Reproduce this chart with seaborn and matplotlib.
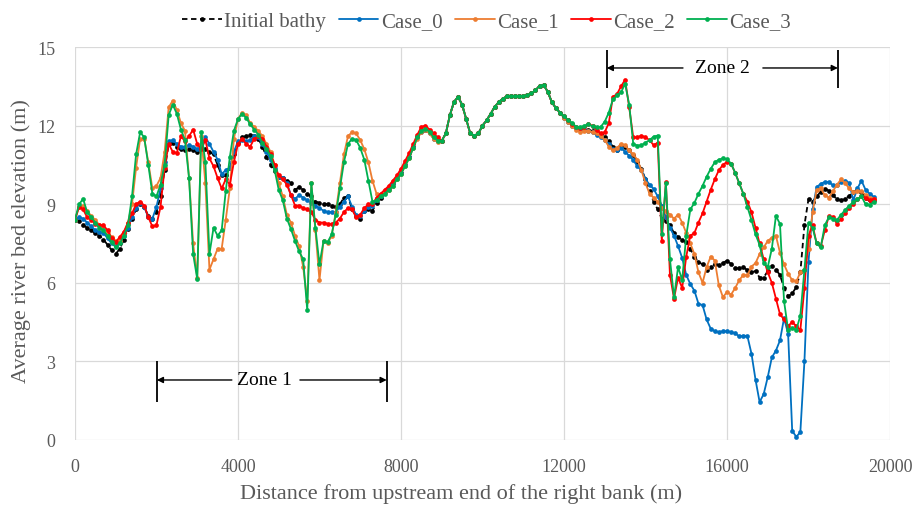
import numpy as np
import pandas as pd
import matplotlib
matplotlib.use("Agg")
import matplotlib.pyplot as plt
import seaborn as sns

# Survey stations along the right bank (m), every 100 m
station_m = np.arange(0, 19700, 100)

# Reach 9000-11900 m: all runs coincide
shared_mid = [11.42, 11.7, 12.4, 12.9, 13.1, 12.8, 12.25, 11.7, 11.62, 11.7,
              12.0, 12.2, 12.45, 12.72, 12.9, 13.03, 13.12, 13.13, 13.13, 13.13,
              13.13, 13.16, 13.23, 13.35, 13.52, 13.55, 13.3, 12.9, 12.67, 12.5]

# ---- Initial bathymetry ----
initial_west = [8.4, 8.35, 8.2, 8.1, 8.0, 7.9, 7.8, 7.65, 7.45, 7.25,
                7.1, 7.3, 7.65, 8.05, 8.45, 8.8, 9.0, 8.9, 8.55, 8.45,
                8.7, 9.3, 10.3, 11.3, 11.35, 11.2, 11.1, 11.05, 11.1, 11.05,
                11.0, 11.1, 11.1, 11.0, 10.9, 10.5, 10.1, 10.1, 10.4, 10.9,
                11.35, 11.55, 11.6, 11.65, 11.6, 11.5, 11.2, 10.8, 10.5, 10.25,
                10.05, 10.0, 9.9, 9.8, 9.55, 9.65, 9.55, 9.4, 9.3, 9.1,
                9.05, 9.0, 9.0, 8.95, 8.9, 9.0, 9.25, 9.3, 8.8, 8.55,
                8.45, 8.75, 8.8, 8.75, 9.05, 9.25, 9.45, 9.6, 9.8, 10.0,
                10.2, 10.5, 10.8, 11.2, 11.55, 11.78, 11.85, 11.75, 11.52, 11.42]
initial_east = [12.33, 12.2, 12.05, 11.92, 11.87, 11.85, 11.82, 11.8, 11.72, 11.68,
                11.55, 11.4, 11.2, 11.05, 11.25, 11.2, 11.05, 10.87, 10.6, 10.35,
                9.95, 9.5, 9.1, 8.8, 8.45, 8.35, 8.2, 7.9, 7.74, 7.65,
                7.55, 7.3, 7.0, 6.8, 6.7, 6.5, 6.6, 6.7, 6.68, 6.75,
                6.85, 6.72, 6.55, 6.55, 6.6, 6.48, 6.4, 6.45, 6.2, 6.2,
                6.45, 6.65, 6.5, 6.3, 5.8, 5.48, 5.6, 5.83, 6.4, 8.2,
                9.2, 9.1, 9.3, 9.47, 9.58, 9.52, 9.35, 9.18, 9.15, 9.2,
                9.32, 9.45, 9.53, 9.45, 9.25, 9.15, 9.15]

# ---- Case_0 ----
case0_west = [8.4, 8.5, 8.45, 8.3, 8.15, 8.0, 7.95, 7.9, 7.7, 7.5,
              7.4, 7.55, 7.8, 8.1, 8.5, 8.85, 9.05, 8.9, 8.5, 8.45,
              8.9, 9.6, 10.6, 11.4, 11.45, 11.3, 11.2, 11.2, 11.25, 11.2,
              11.1, 11.2, 11.55, 11.3, 11.0, 10.7, 10.15, 10.3, 10.4, 11.0,
              11.4, 11.45, 11.4, 11.45, 11.6, 11.55, 11.3, 11.0, 10.7, 10.4,
              10.05, 10.0, 9.8, 9.35, 9.2, 9.35, 9.25, 9.15, 9.05, 8.95,
              8.85, 8.75, 8.7, 8.7, 8.7, 8.9, 9.1, 9.3, 8.9, 8.6,
              8.55, 8.75, 8.9, 8.95, 9.15, 9.3, 9.45, 9.6, 9.8, 10.0,
              10.2, 10.5, 10.8, 11.2, 11.55, 11.75, 11.82, 11.72, 11.5, 11.4]
case0_east = [12.3, 12.15, 12.0, 11.9, 11.85, 11.85, 11.8, 11.75, 11.65, 11.55,
              11.45, 11.3, 11.1, 11.05, 11.15, 11.0, 10.85, 10.68, 10.45, 10.3,
              9.95, 9.75, 9.58, 9.3, 8.95, 8.5, 8.1, 7.8, 7.4, 6.95,
              6.3, 5.95, 5.7, 5.2, 5.15, 4.6, 4.25, 4.15, 4.12, 4.15,
              4.15, 4.12, 4.08, 3.95, 3.98, 3.97, 3.3, 2.3, 1.45, 1.75,
              2.4, 3.15, 3.41, 3.8, 4.65, 4.05, 0.35, 0.12, 0.3, 3.0,
              6.8, 8.8, 9.65, 9.78, 9.85, 9.85, 9.72, 9.75, 9.85, 9.9,
              9.8, 9.15, 9.6, 9.9, 9.55, 9.4, 9.28]

# ---- Case_1 ----
case1_west = [8.4, 8.9, 8.95, 8.75, 8.55, 8.4, 8.2, 8.05, 7.95, 7.75,
              7.6, 7.6, 7.9, 8.3, 9.0, 10.4, 11.5, 11.5, 10.6, 9.6,
              9.7, 10.0, 11.0, 12.7, 12.95, 12.6, 12.1, 11.8, 10.0, 7.5,
              6.2, 11.6, 9.8, 6.5, 6.9, 7.3, 7.3, 8.4, 9.6, 11.5,
              12.25, 12.5, 12.4, 12.1, 11.95, 11.8, 11.6, 11.3, 11.0, 10.5,
              9.8, 9.3, 8.6, 8.3, 7.8, 7.4, 6.6, 5.3, 9.8, 8.0,
              6.1, 7.6, 7.5, 7.8, 8.7, 9.8, 10.9, 11.6, 11.75, 11.7,
              11.45, 11.1, 10.6, 9.9, 9.4, 9.35, 9.45, 9.55, 9.7, 9.95,
              10.15, 10.45, 10.75, 11.15, 11.5, 11.75, 11.82, 11.7, 11.5, 11.38]
case1_east = [12.3, 12.15, 12.0, 11.85, 11.75, 11.8, 11.8, 11.75, 11.7, 11.6,
              11.45, 11.2, 11.05, 11.15, 11.3, 11.25, 11.05, 10.9, 10.7, 10.3,
              9.8, 9.4, 9.25, 9.1, 8.85, 8.75, 8.6, 8.45, 8.6, 8.3,
              7.9, 7.5, 7.1, 6.4, 6.0, 6.6, 7.0, 6.85, 5.9, 5.45,
              5.65, 5.55, 5.8, 6.1, 6.3, 6.28, 6.62, 6.75, 7.1, 7.35,
              7.6, 7.72, 7.8, 7.15, 6.7, 6.35, 6.1, 6.05, 6.4, 6.5,
              7.3, 8.7, 9.55, 9.6, 9.35, 9.25, 9.5, 9.75, 9.95, 9.8,
              9.6, 9.47, 9.5, 9.5, 9.35, 9.25, 9.2]

# ---- Case_2 ----
case2_west = [8.4, 8.9, 8.8, 8.5, 8.4, 8.25, 8.2, 8.2, 8.0, 7.7,
              7.55, 7.75, 7.95, 8.3, 8.65, 9.0, 9.1, 8.95, 8.5, 8.15,
              8.2, 8.9, 10.4, 11.3, 11.0, 10.95, 11.6, 11.4, 11.6, 11.85,
              11.3, 11.1, 11.45, 10.75, 10.45, 10.0, 9.6, 9.95, 9.75, 10.6,
              11.3, 11.5, 11.3, 11.2, 11.5, 11.6, 11.5, 11.2, 10.9, 10.5,
              10.1, 9.95, 9.75, 9.35, 8.95, 8.95, 8.85, 8.8, 8.7, 8.4,
              8.3, 8.3, 8.25, 8.25, 8.3, 8.45, 8.7, 8.85, 8.8, 8.5,
              8.6, 8.85, 9.0, 9.0, 9.25, 9.4, 9.55, 9.7, 9.9, 10.1,
              10.35, 10.65, 10.95, 11.3, 11.65, 11.95, 12.0, 11.85, 11.7, 11.55]
case2_east = [12.35, 12.2, 12.05, 11.95, 11.9, 11.95, 12.05, 12.0, 11.85, 11.7,
              11.75, 12.1, 13.1, 13.2, 13.5, 13.75, 12.7, 11.55, 11.55, 11.62,
              11.55, 11.45, 11.25, 11.35, 7.6, 9.85, 6.3, 5.4, 6.2, 5.8,
              7.0, 7.8, 7.9, 8.3, 8.65, 9.1, 9.55, 9.95, 10.3, 10.5,
              10.62, 10.55, 10.2, 9.8, 9.4, 9.1, 8.7, 8.1, 7.5, 6.9,
              6.4, 6.0, 5.4, 4.8, 4.6, 4.35, 4.5, 4.35, 4.2, 5.8,
              7.8, 8.2, 7.5, 7.4, 8.0, 8.55, 8.5, 8.25, 8.45, 8.65,
              8.85, 9.0, 9.18, 9.3, 9.25, 9.15, 9.2]

# ---- Case_3 ----
case3_west = [8.4, 9.0, 9.2, 8.7, 8.5, 8.3, 8.1, 8.0, 7.8, 7.55,
              7.35, 7.5, 7.8, 8.2, 9.3, 10.9, 11.75, 11.55, 10.5, 9.4,
              9.3, 9.75, 10.5, 12.4, 12.8, 12.45, 11.85, 11.45, 10.0, 7.1,
              6.15, 11.75, 10.6, 7.1, 8.1, 7.8, 8.0, 9.5, 10.8, 11.8,
              12.25, 12.45, 12.3, 12.05, 11.85, 11.65, 11.35, 11.1, 10.85, 10.3,
              9.55, 9.15, 8.45, 8.05, 7.6, 7.2, 6.9, 4.95, 9.8, 8.1,
              6.7, 7.6, 7.55, 7.85, 8.6, 9.6, 10.6, 11.3, 11.5, 11.45,
              11.15, 10.7, 9.9, 9.1, 9.15, 9.3, 9.4, 9.55, 9.7, 9.95,
              10.15, 10.45, 10.75, 11.15, 11.55, 11.8, 11.87, 11.77, 11.55, 11.43]
case3_east = [12.35, 12.22, 12.1, 11.95, 11.93, 12.0, 12.05, 11.97, 11.93, 11.95,
              12.15, 12.5, 13.0, 13.15, 13.27, 13.6, 12.8, 11.3, 11.24, 11.25,
              11.35, 11.45, 11.58, 11.62, 7.85, 9.8, 6.9, 5.45, 6.6, 6.1,
              7.8, 8.8, 9.05, 9.4, 9.7, 10.05, 10.35, 10.6, 10.7, 10.75,
              10.72, 10.55, 10.2, 9.8, 9.4, 8.9, 8.4, 7.85, 7.45, 6.75,
              6.6, 7.3, 8.55, 8.25, 5.3, 4.2, 4.28, 4.2, 4.75, 6.5,
              8.3, 8.1, 7.5, 7.35, 8.2, 8.5, 8.45, 8.4, 8.6, 8.78,
              8.95, 9.08, 9.2, 9.3, 9.0, 8.98, 9.08]

series_names = ["Initial bathy", "Case_0", "Case_1", "Case_2", "Case_3"]
series_values = [
    initial_west + shared_mid + initial_east,
    case0_west + shared_mid + case0_east,
    case1_west + shared_mid + case1_east,
    case2_west + shared_mid + case2_east,
    case3_west + shared_mid + case3_east,
]
series_colors = ["#000000", "#0070C0", "#ED7D31", "#FF0000", "#00B050"]

x_ticks = [0, 4000, 8000, 12000, 16000, 20000]
y_ticks = [0, 3, 6, 9, 12, 15]

# Zone extents along the reach (m) and where their captions sit
zone1_span = (2010, 7650)
zone2_span = (13050, 18720)

frames = [pd.DataFrame({"distance": station_m, "elevation": vals, "run": name})
          for name, vals in zip(series_names, series_values)]
data = pd.concat(frames, ignore_index=True)

sns.set_theme(style="white")
plt.rcParams["font.family"] = ["Liberation Serif", "DejaVu Serif"]

text_grey = "#595959"

fig = plt.figure(figsize=(9.22, 5.06), dpi=100)
ax = fig.add_axes([0.0813, 0.1285, 0.8840, 0.7766])

for name, color in zip(series_names, series_colors):
    sub = data[data["run"] == name]
    sns.lineplot(data=sub, x="distance", y="elevation", ax=ax,
                 color=color, marker="o", markersize=3.4,
                 markeredgewidth=0, linewidth=1.3, label=name, legend=False)
    if name == "Initial bathy":
        ax.lines[-1].set_linestyle((0, (3, 2)))

ax.set_xlim(0, 20000)
ax.set_ylim(0, 15)
ax.set_xticks(x_ticks)
ax.set_yticks(y_ticks)
ax.grid(True, color="#D9D9D9", linewidth=0.9)
ax.set_axisbelow(True)
for side in ["top", "right", "left", "bottom"]:
    ax.spines[side].set_visible(False)
ax.tick_params(axis="x", length=0, labelsize=13, colors=text_grey, pad=13)
ax.tick_params(axis="y", length=0, labelsize=13, colors=text_grey, pad=14)

ax.set_xlabel("Distance from upstream end of the right bank (m)",
              fontsize=16, color=text_grey)
ax.set_ylabel("Average river bed elevation (m)", fontsize=16,
              color=text_grey)
ax.xaxis.set_label_coords(0.4736, -0.11)
ax.yaxis.set_label_coords(-0.054, 0.51)

handles, labels = ax.get_legend_handles_labels()
fig.legend(handles, labels, loc="center", bbox_to_anchor=(0.528, 0.956),
           ncol=5, frameon=False, fontsize=15, handlelength=1.9,
           handletextpad=0.12, columnspacing=0.6, labelcolor=text_grey)


def zone_marker(span, y_arrow, y_lo, y_hi, label, text_x, tails):
    left, right = span
    ax.vlines([left, right], y_lo, y_hi, color="black", linewidth=1.3)
    ax.text(text_x, y_arrow, label, ha="center", va="center", fontsize=14,
            color="black")
    arrow = dict(arrowstyle="-|>", color="black", linewidth=1.0,
                 mutation_scale=9, shrinkA=0, shrinkB=0)
    ax.annotate("", xy=(left, y_arrow), xytext=(tails[0], y_arrow),
                arrowprops=arrow)
    ax.annotate("", xy=(right, y_arrow), xytext=(tails[1], y_arrow),
                arrowprops=arrow)


zone_marker(zone1_span, 2.29, 1.45, 3.0, "Zone 1", 4660, (3850, 5520))
zone_marker(zone2_span, 14.2, 13.45, 14.9, "Zone 2", 15900, (14920, 16880))

fig.savefig("out.png", dpi=100)
